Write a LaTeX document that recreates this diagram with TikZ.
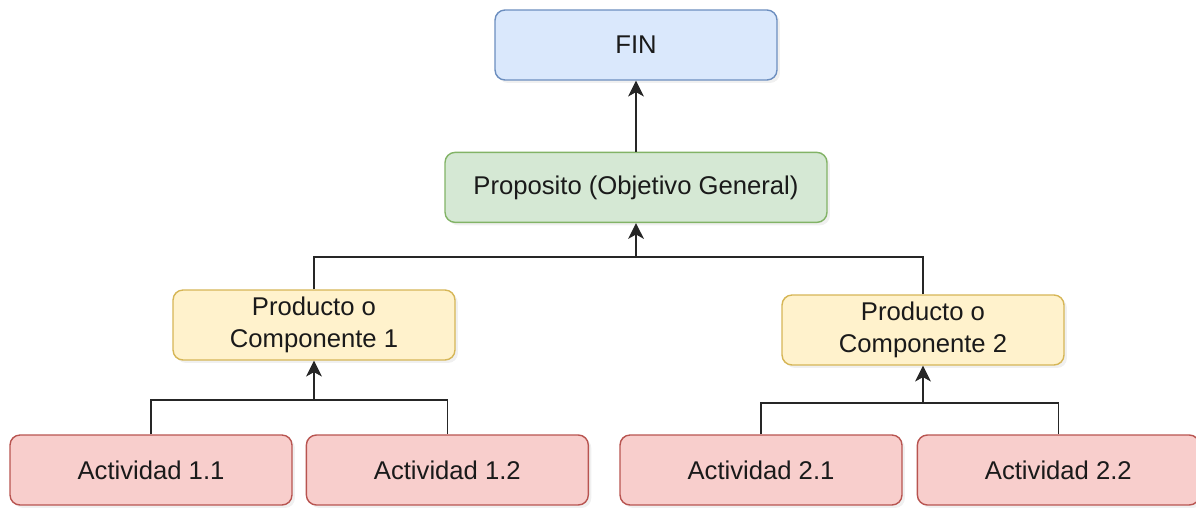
\documentclass[tikz,border=0pt]{standalone}
\usepackage{fontspec}
\setmainfont{Liberation Sans}
\usetikzlibrary{positioning,arrows.meta,shadows}

\definecolor{finfill}{HTML}{DAE8FC}
\definecolor{findraw}{HTML}{6C8EBF}
\definecolor{propfill}{HTML}{D5E8D4}
\definecolor{propdraw}{HTML}{82B366}
\definecolor{prodfill}{HTML}{FFF2CC}
\definecolor{proddraw}{HTML}{D6B656}
\definecolor{actfill}{HTML}{F8CECC}
\definecolor{actdraw}{HTML}{B85450}
\definecolor{txt}{HTML}{1A1A1A}

\tikzset{
  box/.style={draw, rounded corners=0.2cm, line width=0.8pt, text=txt,
    minimum width=5.64cm, minimum height=1.4cm, align=center,
    font=\fontsize{14.6pt}{18.5pt}\selectfont,
    drop shadow={opacity=0.12, shadow xshift=0.06cm, shadow yshift=-0.06cm}},
  finbox/.style={box, fill=finfill, draw=findraw},
  propbox/.style={box, fill=propfill, draw=propdraw, minimum width=7.64cm},
  prodbox/.style={box, fill=prodfill, draw=proddraw},
  actbox/.style={box, fill=actfill, draw=actdraw},
  link/.style={line width=0.9pt, draw=black!85},
  uparrow/.style={link, -{Stealth[length=9pt,width=9pt,inset=2.5pt]}}
}

\begin{document}
\begin{tikzpicture}[x=0.02cm, y=-0.02cm]
        \useasboundingbox (0,0) rectangle (1196,510);
        % levels
        \node[finbox] (fin) at (636,45) {FIN};
        \node[propbox, below=1.42cm of fin] (prop) {Proposito (Objetivo General)};
        \node[prodbox] (prod1) at (314,325) {Producto o\\Componente 1};
        \node[prodbox] (prod2) at (923,330) {Producto o\\Componente 2};
        \node[actbox] (act11) at (151,470) {Actividad 1.1};
        \node[actbox, right=0.26cm of act11] (act12) {Actividad 1.2};
        \node[actbox] (act21) at (761,470) {Actividad 2.1};
        \node[actbox, right=0.28cm of act21] (act22) {Actividad 2.2};

        % junctions
        \coordinate (jprop) at (prop.south |- 0,257);
        \coordinate (jprod1) at (prod1.south |- 0,400);
        \coordinate (jprod2) at (prod2.south |- 0,403);

        % connectors
        \draw[uparrow] (prop.north) -- (fin.south);
        \draw[link] (prod1.north) |- (jprop);
        \draw[link] (prod2.north) |- (jprop);
        \draw[uparrow] (jprop) -- (prop.south);
        \draw[link] (act11.north) |- (jprod1);
        \draw[link] (act12.north) |- (jprod1);
        \draw[uparrow] (jprod1) -- (prod1.south);
        \draw[link] (act21.north) |- (jprod2);
        \draw[link] (act22.north) |- (jprod2);
        \draw[uparrow] (jprod2) -- (prod2.south);
\end{tikzpicture}
\end{document}
